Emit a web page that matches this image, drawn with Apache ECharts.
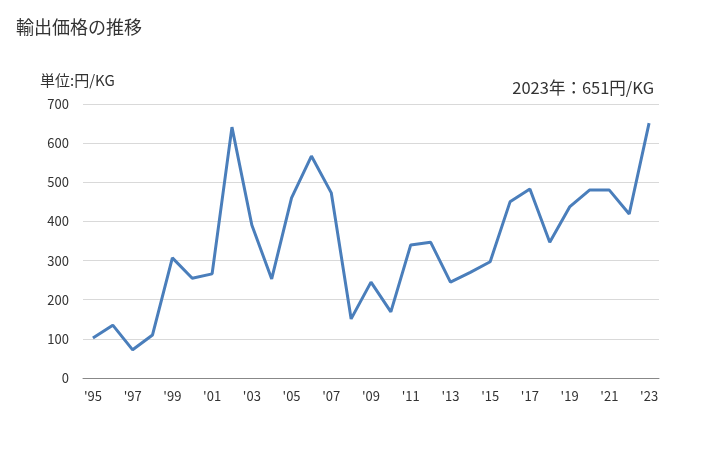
<!DOCTYPE html>
<html>
<head>
<meta charset="utf-8">
<script src="https://cdn.jsdelivr.net/npm/echarts@6/dist/echarts.min.js"></script>
<style>
  html, body { margin: 0; padding: 0; background: #fff; }
  #chart { width: 728px; height: 450px; }
</style>
</head>
<body>
<div id="chart"></div>
<script>
// 年 (1995-2023)
var years = ['95','96','97','98','99','00','01','02','03','04','05','06','07','08','09',
             '10','11','12','13','14','15','16','17','18','19','20','21','22','23'];
// 輸出価格 円/KG
var prices = [102, 135, 72, 110, 307, 255, 266, 641, 391, 253, 460, 567, 473, 151, 245,
              169, 340, 347, 245, 270, 297, 450, 483, 347, 437, 480, 480, 419, 651];

var font = '"Noto Sans CJK JP", sans-serif';

var chart = echarts.init(document.getElementById('chart'));
chart.setOption({
  animation: false,
  textStyle: { fontFamily: font },
  title: [
    { text: '輸出価格の推移', left: 11, top: 13,
      textStyle: { fontSize: 18, fontWeight: 'normal', color: '#333', fontFamily: font } },
    { text: '単位:円/KG', left: 35, top: 68,
      textStyle: { fontSize: 15, fontWeight: 'normal', color: '#333', fontFamily: font } },
    { text: '2023年：651円/KG', right: 69, top: 74,
      textStyle: { fontSize: 16.5, fontWeight: 'normal', color: '#333', fontFamily: font } }
  ],
  grid: { left: 83, right: 69, top: 104, bottom: 72 },
  xAxis: {
    type: 'category',
    data: years,
    boundaryGap: true,
    axisLine: { lineStyle: { color: '#888' } },
    axisTick: { show: false },
    axisLabel: {
      interval: 1,
      color: '#333',
      fontSize: 13,
      margin: 12,
      formatter: function (v) { return "'" + v; }
    }
  },
  yAxis: {
    type: 'value',
    min: 0,
    max: 700,
    interval: 100,
    axisLine: { show: false },
    axisTick: { show: false },
    axisLabel: { color: '#333', fontSize: 13, margin: 14 },
    splitLine: { lineStyle: { color: '#d9d9d9' } }
  },
  series: [{
    type: 'line',
    data: prices,
    showSymbol: false,
    lineStyle: { color: '#4a7ebb', width: 3 },
    itemStyle: { color: '#4a7ebb' }
  }]
});
</script>
</body>
</html>
